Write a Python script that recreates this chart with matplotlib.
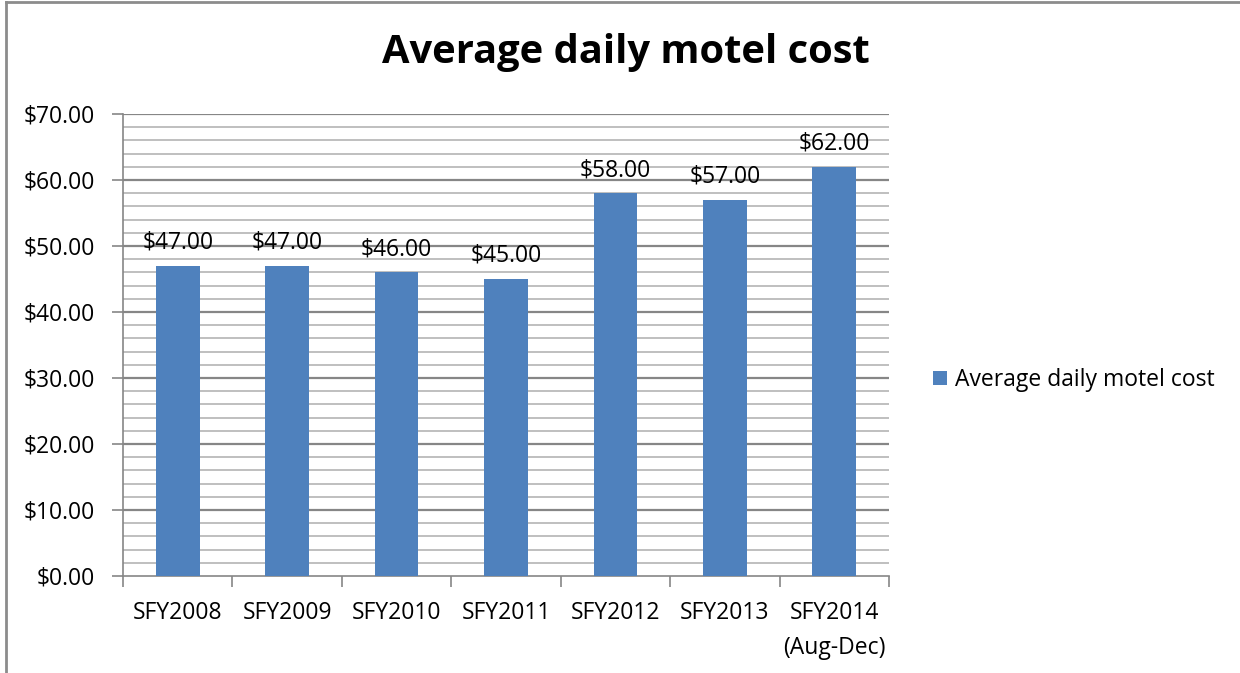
import matplotlib
matplotlib.use("Agg")
import matplotlib.pyplot as plt
from matplotlib.lines import Line2D
from matplotlib.patches import Patch
import numpy as np

categories = ["SFY2008", "SFY2009", "SFY2010", "SFY2011", "SFY2012", "SFY2013", "SFY2014\n(Aug-Dec)"]
values = [47.00, 47.00, 46.00, 45.00, 58.00, 57.00, 62.00]
series_name = "Average daily motel cost"
title = "Average daily motel cost"
yticks = [0, 10, 20, 30, 40, 50, 60, 70]

plt.rcParams['font.family'] = ['Open Sans', 'DejaVu Sans']

W, H = 1240, 673
dpi = 100
fig = plt.figure(figsize=(W / dpi, H / dpi), dpi=dpi)

# axes in pixel coords: left 123, right 889, top 114, bottom 576
ax = fig.add_axes([123 / W, 1 - 576 / H, (889 - 123) / W, (576 - 114) / H])

bar_color = "#4F81BD"
fs = 16.5
x = np.arange(len(categories))
ax.bar(x, values, width=0.4, color=bar_color, zorder=3)
ax.set_xlim(-0.5, len(categories) - 0.5)
ax.set_ylim(0, 70)

# gridlines
for v in np.arange(2, 70.1, 2):
    major = abs(v % 10) < 1e-9
    ax.axhline(v, color="#868686" if major else "#BFBFBF", lw=1.6 if major else 1.4, zorder=1)

ax.set_yticks(yticks)
ax.set_yticklabels([f"${v:.2f}" for v in yticks], fontsize=fs)
ax.tick_params(axis="y", length=8, width=1.2, color="#868686", pad=12)

ax.set_xticks(x)
ax.set_xticklabels(categories, fontsize=fs, linespacing=1.6, va="top")
ax.tick_params(axis="x", length=0, pad=18)
ax.set_xticks(np.arange(-0.5, len(categories)), minor=True)
ax.tick_params(axis="x", which="minor", length=8, width=1.2, color="#868686")

for s in ["top", "right"]:
    ax.spines[s].set_visible(False)
for s in ["left", "bottom"]:
    ax.spines[s].set_color("#868686")
    ax.spines[s].set_linewidth(1.2)

for xi, v in zip(x, values):
    ax.annotate(f"${v:.2f}", (xi, v), xytext=(0, 8), textcoords="offset points",
                ha="center", va="bottom", fontsize=fs, zorder=4)

fig.text(626 / W, 1 - 52 / H, title, ha="center", va="center", fontsize=28.7, fontweight="bold")

handles = [Patch(facecolor=bar_color, edgecolor="none", label=series_name)]
fig.legend(handles=handles, loc="center left", bbox_to_anchor=(924 / W, 1 - 380 / H),
           frameon=False, fontsize=fs, handlelength=0.6, handleheight=0.6,
           handletextpad=0.35, borderaxespad=0)

# outer chart border (top and left visible)
fig.add_artist(Line2D([6 / W, 6 / W], [0, 1 - 1.5 / H], transform=fig.transFigure, color="#8C8C8C", lw=2))
fig.add_artist(Line2D([6 / W, 1], [1 - 1.5 / H, 1 - 1.5 / H], transform=fig.transFigure, color="#8C8C8C", lw=2))

fig.savefig("out.png", dpi=dpi)
